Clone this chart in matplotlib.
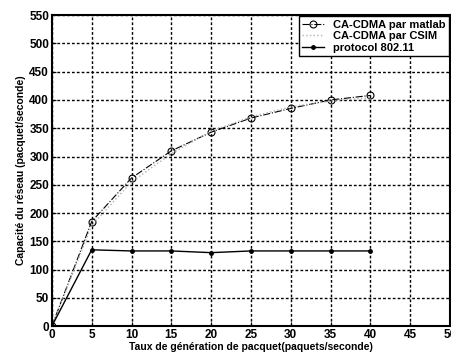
import matplotlib.pyplot as plt
import numpy as np

plt.rcParams['font.family'] = ['Liberation Sans', 'DejaVu Sans']

# data
taux = [0, 5, 10, 15, 20, 25, 30, 35, 40]
matlab = [0, 185, 262, 310, 343, 368, 385, 400, 408]
csim = [0, 178, 255, 305, 345, 370, 388, 398, 404]
ieee = [0, 135, 133, 133, 130, 133, 133, 133, 133]

fig = plt.figure(figsize=(4.51, 3.6), dpi=100)
ax = fig.add_axes([0.115, 0.094, 0.883, 0.864])

ax.plot(taux, matlab, color='black', ls='-.', lw=0.8, marker='o',
        ms=5, mfc='none', mew=0.8, label='CA-CDMA par matlab')
ax.plot(taux, csim, color='#b0b0b0', ls=':', lw=1.0, label='CA-CDMA par CSIM')
ax.plot(taux, ieee, color='black', ls='-', lw=1.0, marker='.', ms=5,
        label='protocol 802.11')

ax.set_xlim(0, 50)
ax.set_ylim(0, 550)
ax.set_xticks(np.arange(0, 51, 5))
ax.set_yticks(np.arange(0, 551, 50))
ax.grid(color='black', ls=(0, (2, 1.5)), lw=1.0)
for s in ax.spines.values():
    s.set_linewidth(1.5)
ax.tick_params(direction='in', length=3, labelsize=8.5, pad=2)
for t in ax.get_xticklabels() + ax.get_yticklabels():
    t.set_fontweight('bold')

ax.set_xlabel('Taux de génération de pacquet(paquets/seconde)', fontsize=7.5,
              fontweight='bold', labelpad=1)
ax.set_ylabel('Capacité du réseau (pacquet/seconde)', fontsize=7.5,
              fontweight='bold', labelpad=2)

leg = ax.legend(loc='upper right', fontsize=8, fancybox=False, framealpha=1,
                edgecolor='black', borderaxespad=0.1, handlelength=2,
                borderpad=0.3, labelspacing=0.15)
leg.get_frame().set_linewidth(1.0)
for t in leg.get_texts():
    t.set_fontweight('bold')

plt.savefig('out.png', dpi=100)
